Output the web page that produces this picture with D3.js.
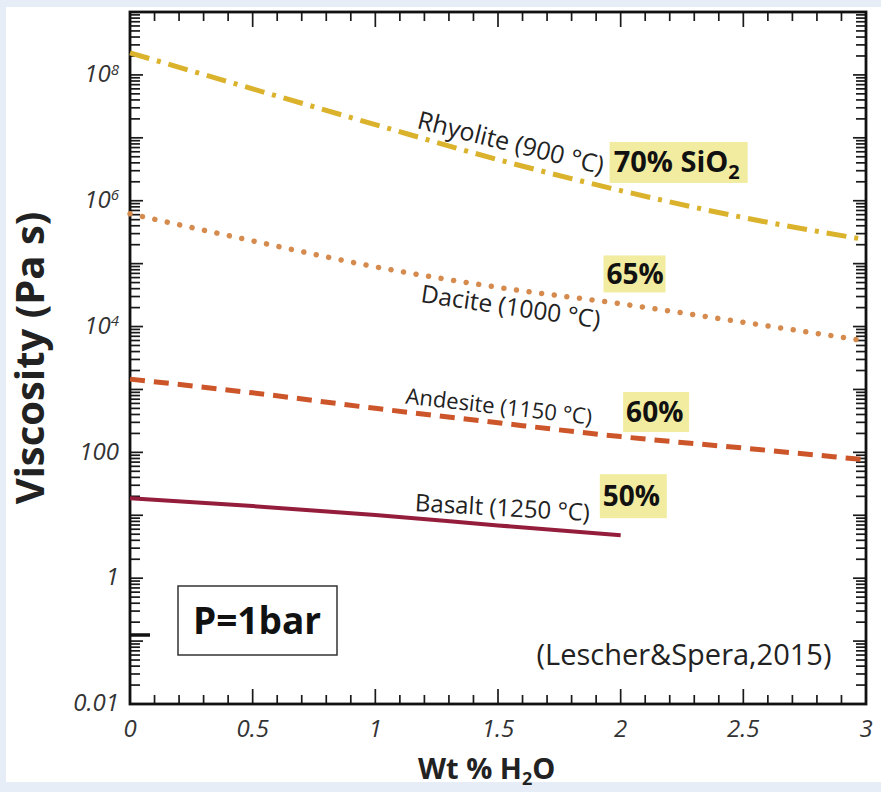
<!DOCTYPE html>
<html>
<head>
<meta charset="utf-8">
<script src="https://cdn.jsdelivr.net/npm/d3@7"></script>
<style>
body{margin:0;background:#e6edf7;}
svg{display:block;}
</style>
</head>
<body>
<script>
// viscosity vs water content
const w = 881;
const h = 792;

const wtPts = [0, 0.5, 1, 1.5, 2, 2.5, 3];
const basaltWt = [0, 0.5, 1, 1.5, 2];

const rhyolite = [2.24e8, 6.0e7, 1.62e7, 4.5e6, 1.45e6, 5.4e5, 2.4e5];
const dacite = [6.2e5, 2.3e5, 8.9e4, 4.2e4, 2.3e4, 1.17e4, 5.9e3];
const andesite = [1460, 883, 501, 295, 178, 117, 76];
const basalt = [18.7, 14.0, 10.1, 6.9, 4.8];

const yLabelVals = [0.01, 1, 100, 1e4, 1e6, 1e8];
const yLabelBase = ['0.01', '1', '100', '10', '10', '10'];
const yLabelSup = ['', '', '', '4', '6', '8'];
const xLabelVals = [0, 0.5, 1, 1.5, 2, 2.5, 3];
const xLabelText = ['0', '0.5', '1', '1.5', '2', '2.5', '3'];

const rockNames = ['Rhyolite (900 °C)', 'Dacite (1000 °C)', 'Andesite (1150 °C)', 'Basalt (1250 °C)'];
const silica = ['70% SiO', '65%', '60%', '50%'];

//----------SVG------------
const svg = d3.select('body').append('svg')
  .attr('width', w)
  .attr('height', h);

svg.append('rect')
  .attr('x', 6).attr('y', 7)
  .attr('width', w - 6).attr('height', 775)
  .style('fill', '#fff');

const x = d3.scaleLinear().domain([0, 3]).range([130, 866]);
const y = d3.scaleLog().domain([0.01, 1e9]).range([704, 12]);

// log ticks for every decade
var logTicks = [];
d3.range(-2, 9).forEach(k => {
  for (var m = 1; m <= 9; m++) logTicks.push(m * Math.pow(10, k));
});
logTicks.push(1e9);
const isMajor = v => Math.abs(Math.log10(v) - Math.round(Math.log10(v))) < 1e-9;

const tickG = svg.append('g').style('stroke', '#1a1a1a').style('stroke-width', 1.7);

// left + right
tickG.selectAll('.yl').data(logTicks).enter().append('line')
  .attr('x1', x(0)).attr('x2', d => x(0) + (isMajor(d) ? 13 : 10))
  .attr('y1', d => y(d)).attr('y2', d => y(d));
tickG.selectAll('.yr').data(logTicks).enter().append('line')
  .attr('x1', x(3)).attr('x2', d => x(3) - (isMajor(d) ? 13 : 10))
  .attr('y1', d => y(d)).attr('y2', d => y(d));

// odd thick tick on the left axis
const oddTick = [0.125];
svg.selectAll('.odd').data(oddTick).enter().append('line')
  .attr('x1', x(0)).attr('x2', x(0) + 20)
  .attr('y1', d => y(d)).attr('y2', d => y(d))
  .style('stroke', '#111').style('stroke-width', 3.5);

// top + bottom
const xTicks = d3.range(0, 31).map(i => i / 10);
const xMajor = d => Math.abs(d * 2 - Math.round(d * 2)) < 1e-9;
tickG.selectAll('.xb').data(xTicks).enter().append('line')
  .attr('x1', d => x(d)).attr('x2', d => x(d))
  .attr('y1', y(0.01)).attr('y2', d => y(0.01) - (xMajor(d) ? 15 : 9));
tickG.selectAll('.xt').data(xTicks).enter().append('line')
  .attr('x1', d => x(d)).attr('x2', d => x(d))
  .attr('y1', y(1e9)).attr('y2', d => y(1e9) + (xMajor(d) ? 15 : 9));

// frame
svg.append('rect')
  .attr('x', x(0)).attr('y', y(1e9))
  .attr('width', x(3) - x(0)).attr('height', y(0.01) - y(1e9))
  .style('fill', 'none').style('stroke', '#111').style('stroke-width', 2.8);

// tick labels
const yl = svg.selectAll('.ylab').data(yLabelVals).enter().append('text')
  .attr('x', 119).attr('y', d => y(d)).attr('dy', '0.3em')
  .attr('text-anchor', 'end')
  .style('font-family', '"Open Sans", sans-serif').style('font-style', 'italic')
  .style('font-size', '24px').style('fill', '#333');
yl.append('tspan').text((d, i) => yLabelBase[i]);
yl.append('tspan').attr('dy', '-0.5em').style('font-size', '15px').text((d, i) => yLabelSup[i]);

svg.selectAll('.xlab').data(xLabelVals).enter().append('text')
  .attr('x', d => x(d)).attr('y', 737)
  .attr('text-anchor', 'middle')
  .style('font-family', '"Open Sans", sans-serif').style('font-style', 'italic')
  .style('font-size', '24px').style('fill', '#333')
  .text((d, i) => xLabelText[i]);

// axis titles
svg.append('text')
  .attr('transform', 'translate(44,' + (y(1e9) + y(0.01)) / 2 + ') rotate(-90)')
  .attr('text-anchor', 'middle')
  .style('font-family', '"Open Sans", sans-serif').style('font-weight', 700)
  .style('font-size', '40px').style('fill', '#222')
  .text('Viscosity (Pa s)');

const xt = svg.append('text')
  .attr('x', 418).attr('y', 779)
  .style('font-family', '"Open Sans", sans-serif').style('font-weight', 700)
  .style('font-size', '29px').style('fill', '#222');
xt.append('tspan').text('Wt % H');
xt.append('tspan').attr('dy', 6).style('font-size', '18px').text('2');
xt.append('tspan').attr('dy', -6).text('O');

//----------LINES------------
const line = d3.line()
  .x(d => x(d[0]))
  .y(d => y(d[1]))
  .curve(d3.curveMonotoneX);

const series = [
  {vals: rhyolite, wt: wtPts, color: '#dbb22c', width: 5, dash: '20 8 4 8', cap: 'butt'},
  {vals: dacite, wt: wtPts, color: '#d58a4e', width: 5.5, dash: '0.01 12.7', cap: 'round'},
  {vals: andesite, wt: wtPts, color: '#cc552a', width: 5, dash: '15 9', cap: 'butt'},
  {vals: basalt, wt: basaltWt, color: '#951d3c', width: 4, dash: null, cap: 'butt'}
];

svg.selectAll('.series').data(series).enter().append('path')
  .attr('d', s => line(s.wt.map((v, i) => [v, s.vals[i]])))
  .style('fill', 'none')
  .style('stroke', s => s.color)
  .style('stroke-width', s => s.width)
  .style('stroke-dasharray', s => s.dash)
  .style('stroke-linecap', s => s.cap);

//----------ANNOTATIONS------------
// name labels placed along lines: [wt, viscosity, angle, font px]
const namePos = [[1.166, 1.43e7, 14, 25], [1.182, 2.45e4, 8.3, 24.5], [1.121, 600, 6.5, 22], [1.16, 11.7, 3.3, 24]];
svg.selectAll('.rock').data(rockNames).enter().append('text')
  .attr('transform', (d, i) => 'translate(' + x(namePos[i][0]) + ',' + y(namePos[i][1]) + ') rotate(' + namePos[i][2] + ')')
  .style('font-family', '"Open Sans", sans-serif')
  .style('font-size', (d, i) => namePos[i][3] + 'px').style('fill', '#222')
  .text(d => d);

// silica boxes: [wt left, viscosity top, width px, height px]
const boxPos = [[1.955, 8.6e6, 138, 41], [1.93, 1.35e5, 62, 37], [2.01, 910, 66, 40], [1.915, 45, 67, 44]];
const boxG = svg.selectAll('.sil').data(silica).enter().append('g')
  .attr('transform', (d, i) => 'translate(' + x(boxPos[i][0]) + ',' + y(boxPos[i][1]) + ')');
boxG.append('rect')
  .attr('width', (d, i) => boxPos[i][2]).attr('height', (d, i) => boxPos[i][3])
  .style('fill', '#f1ec9f');
const st = boxG.append('text')
  .attr('x', (d, i) => i == 0 ? 4 : 3).attr('y', (d, i) => boxPos[i][3] / 2 + 10)
  .style('font-family', '"Open Sans", sans-serif').style('font-weight', 700)
  .style('font-size', (d, i) => i == 0 ? '29px' : '28px').style('fill', '#111');
st.append('tspan').text(d => d);
st.filter((d, i) => i == 0).append('tspan').attr('dy', 7).style('font-size', '20px').text('2');

// P = 1 bar box
svg.append('rect')
  .attr('x', 178).attr('y', 586).attr('width', 159).attr('height', 69)
  .style('fill', '#fff').style('stroke', '#333').style('stroke-width', 1.5);
svg.append('text')
  .attr('x', 257).attr('y', 634).attr('text-anchor', 'middle')
  .style('font-family', '"Open Sans", sans-serif').style('font-weight', 700)
  .style('font-size', '37px').style('fill', '#111')
  .text('P=1bar');

svg.append('text')
  .attr('x', 684).attr('y', 665).attr('text-anchor', 'middle')
  .style('font-family', '"Open Sans", sans-serif')
  .style('font-size', '29px').style('fill', '#222')
  .text('(Lescher&Spera,2015)');
</script>
</body>
</html>
